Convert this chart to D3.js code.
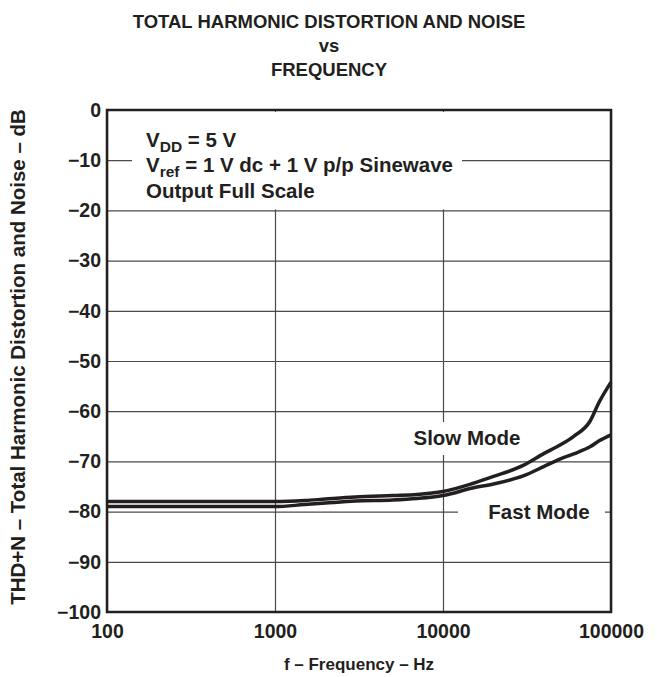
<!DOCTYPE html>
<html>
<head>
<meta charset="utf-8">
<script src="https://cdn.jsdelivr.net/npm/d3@7/dist/d3.min.js"></script>
<style>
  html, body { margin: 0; padding: 0; background: #fff; }
  svg text { font-family: "Liberation Sans", Arial, Helvetica, sans-serif; font-weight: bold; fill: #231f20; }
</style>
</head>
<body>
<svg id="chart" width="657" height="677"></svg>
<script>
const titleLines = ["TOTAL HARMONIC DISTORTION AND NOISE", "vs", "FREQUENCY"];
const xTicks = [100, 1000, 10000, 100000];
const yTicks = [0, -10, -20, -30, -40, -50, -60, -70, -80, -90, -100];
const freq = [100, 200, 500, 1000, 1500, 2000, 3000, 5000, 7000, 10000, 15000, 20000, 30000, 40000, 50000, 60000, 75000, 85000, 100000];
const slowMode = [-78, -78, -78, -78, -77.8, -77.5, -77.1, -76.8, -76.6, -76, -74.4, -73, -70.8, -68.4, -66.7, -65, -62, -58.2, -54.2];
const fastMode = [-79, -79, -79, -79, -78.6, -78.3, -77.9, -77.7, -77.4, -76.8, -75.3, -74.5, -72.9, -71, -69.5, -68.5, -67.1, -65.9, -64.7];

const svg = d3.select("#chart");
const m = { left: 107, right: 611, top: 110, bottom: 612 };
const x = d3.scaleLog().domain([100, 100000]).range([m.left, m.right]);
const y = d3.scaleLinear().domain([-100, 0]).range([m.bottom, m.top]);

// title
svg.selectAll("text.title").data(titleLines).enter().append("text")
  .attr("class", "title")
  .attr("x", 329).attr("y", (d, i) => 28 + i * 24)
  .attr("text-anchor", "middle").style("font-size", "18.5px").text(d => d);

// gridlines
const grid = svg.append("g");
grid.append("g").attr("transform", `translate(0,${m.bottom})`)
  .call(d3.axisBottom(x).tickValues(xTicks).tickSize(-(m.bottom - m.top)).tickFormat(""))
  .call(g => g.select(".domain").remove())
  .call(g => g.selectAll("line").attr("stroke", "#4a4a4a").attr("stroke-width", 1.2));
grid.append("g").attr("transform", `translate(${m.left},0)`)
  .call(d3.axisLeft(y).tickValues(yTicks).tickSize(-(m.right - m.left)).tickFormat(""))
  .call(g => g.select(".domain").remove())
  .call(g => g.selectAll("line").attr("stroke", "#4a4a4a").attr("stroke-width", 1.2));

// white masks behind annotations
svg.append("rect").attr("x", 132).attr("y", m.top + 2).attr("width", 330).attr("height", y(-20) - m.top - 3).attr("fill", "#fff");
svg.append("rect").attr("x", 408).attr("y", 422).attr("width", 118).attr("height", 33).attr("fill", "#fff");
svg.append("rect").attr("x", 458).attr("y", 498).attr("width", 147).attr("height", 28).attr("fill", "#fff");

// curves
const line = d3.line().x((d, i) => x(freq[i])).y(d => y(d)).curve(d3.curveMonotoneX);
[slowMode, fastMode].forEach(s => {
  svg.append("path").datum(s).attr("d", line)
    .attr("fill", "none").attr("stroke", "#231f20").attr("stroke-width", 3.5).attr("stroke-linejoin", "round");
});

// frame
svg.append("rect").attr("x", m.left).attr("y", m.top).attr("width", m.right - m.left).attr("height", m.bottom - m.top)
  .attr("fill", "none").attr("stroke", "#231f20").attr("stroke-width", 2.5);

// axis labels
const ax = svg.append("g").attr("transform", `translate(0,${m.bottom})`)
  .call(d3.axisBottom(x).tickValues(xTicks).tickSize(0).tickPadding(12).tickFormat(d3.format("d")));
ax.select(".domain").remove();
ax.selectAll("text").style("font-size", "19.5px").attr("fill", "#231f20").style("font-family", null);

const ay = svg.append("g").attr("transform", `translate(${m.left},0)`)
  .call(d3.axisLeft(y).tickValues(yTicks).tickSize(0).tickPadding(6).tickFormat(d => d === 0 ? "0" : "\u2212" + Math.abs(d)));
ay.select(".domain").remove();
ay.selectAll("text").style("font-size", "19.5px").attr("fill", "#231f20").style("font-family", null);

// axis titles
svg.append("text").attr("x", (m.left + m.right) / 2).attr("y", 670).attr("text-anchor", "middle")
  .style("font-size", "17px").text("f \u2013 Frequency \u2013 Hz");
svg.append("text").attr("transform", `translate(25,${(m.top + m.bottom) / 2 - 4}) rotate(-90)`).attr("text-anchor", "middle")
  .style("font-size", "20.5px").text("THD+N \u2013 Total Harmonic Distortion and Noise \u2013 dB");

// annotation box
const ann = svg.append("text").style("font-size", "20.5px");
const l1 = ann.append("tspan").attr("x", 146).attr("y", 147);
l1.append("tspan").text("V");
l1.append("tspan").attr("dy", 5).style("font-size", "15.5px").text("DD");
l1.append("tspan").attr("dy", -5).text(" = 5 V");
const l2 = svg.append("text").style("font-size", "20.5px").attr("x", 146).attr("y", 172);
l2.append("tspan").text("V");
l2.append("tspan").attr("dy", 5).style("font-size", "15.5px").text("ref");
l2.append("tspan").attr("dy", -5).text(" = 1 V dc + 1 V p/p Sinewave");
svg.append("text").style("font-size", "20.5px").attr("x", 146).attr("y", 198).text("Output Full Scale");

svg.append("text").attr("x", 467).attr("y", 445).attr("text-anchor", "middle").style("font-size", "20.5px").text("Slow Mode");
svg.append("text").attr("x", 539).attr("y", 519).attr("text-anchor", "middle").style("font-size", "20.5px").text("Fast Mode");
</script>
</body>
</html>
